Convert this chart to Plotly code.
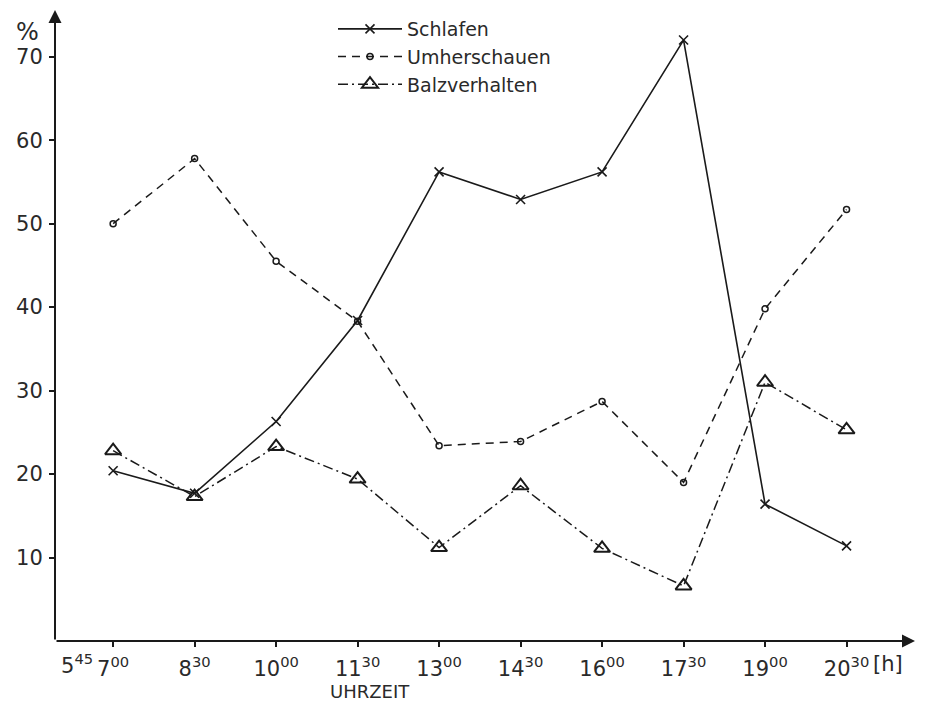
import plotly.graph_objects as go

# time of day in hours
hours = [7.0, 8.5, 10.0, 11.5, 13.0, 14.5, 16.0, 17.5, 19.0, 20.5]
tick_labels = ["7<sup>00</sup>", "8<sup>30</sup>", "10<sup>00</sup>", "11<sup>30</sup>",
               "13<sup>00</sup>", "14<sup>30</sup>", "16<sup>00</sup>", "17<sup>30</sup>",
               "19<sup>00</sup>", "20<sup>30</sup>"]

schlafen = [20.4, 17.7, 26.3, 38.4, 56.2, 52.9, 56.2, 72.0, 16.4, 11.4]
umherschauen = [50.0, 57.8, 45.5, 38.3, 23.4, 23.9, 28.7, 19.0, 39.8, 51.7]
balzverhalten = [22.8, 17.3, 23.3, 19.4, 11.2, 18.6, 11.1, 6.6, 31.0, 25.3]

y_ticks = [10, 20, 30, 40, 50, 60, 70]

X_MIN, X_MAX = 5.93, 21.76
Y_MIN, Y_MAX = 0, 75.6

INK = "#1a1a1a"
TXT = "#2a2a2a"
FONT = "DejaVu Sans"

# page body margin offsets the figure by 8px; work in screen pixels
OFF = 8
W, H = 920, 695
L, T = 55 - OFF, 10 - OFF
B = H - (641 - OFF)
R = W - (915 - OFF)
pw, ph = W - L - R, H - T - B


def px_to_paper(px, py):
    """screen pixel -> paper coords"""
    return (px - OFF - L) / pw, (H - B - (py - OFF)) / ph


fig = go.Figure()

fig.add_trace(go.Scatter(
    x=hours, y=schlafen, name="Schlafen", mode="lines+markers",
    line=dict(color=INK, width=1.6, dash="solid"),
    marker=dict(symbol="x-thin-open", size=9, color=INK, line=dict(color=INK, width=1.6)),
))
fig.add_trace(go.Scatter(
    x=hours, y=umherschauen, name="Umherschauen", mode="lines+markers",
    line=dict(color=INK, width=1.5, dash="8px,6px"),
    marker=dict(symbol="circle-open", size=6, color=INK, line=dict(color=INK, width=1.5)),
))
fig.add_trace(go.Scatter(
    x=hours, y=balzverhalten, name="Balzverhalten", mode="lines+markers",
    line=dict(color=INK, width=1.5, dash="10px,4px,2px,4px"),
    marker=dict(symbol="triangle-up-open", size=14, color=INK, line=dict(color=INK, width=2)),
))

annotations = [
    # x axis with arrow
    dict(x=X_MAX, y=0, ax=X_MIN, ay=0, xref="x", yref="y", axref="x", ayref="y",
         text="", showarrow=True, arrowhead=2, arrowsize=1.3, arrowwidth=2, arrowcolor=INK),
    # y axis with arrow
    dict(x=X_MIN, y=Y_MAX, ax=X_MIN, ay=0, xref="x", yref="y", axref="x", ayref="y",
         text="", showarrow=True, arrowhead=2, arrowsize=1.3, arrowwidth=2, arrowcolor=INK),
]

for px, py, text, size in [(77, 664, "5<sup>45</sup>", 21), (888, 664, "[h]", 21),
                           (370, 691, "UHRZEIT", 18), (27, 32, "%", 24)]:
    xp, yp = px_to_paper(px, py)
    annotations.append(dict(x=xp, y=yp, xref="paper", yref="paper", xanchor="center",
                            yanchor="middle", showarrow=False, text=text,
                            font=dict(family=FONT, size=size, color=TXT)))

lx, ly = px_to_paper(333, 10)

fig.update_layout(
    width=W, height=H,
    margin=dict(l=L, r=R, t=T, b=B, pad=0, autoexpand=False),
    paper_bgcolor="white", plot_bgcolor="white",
    font=dict(family=FONT, color=TXT),
    showlegend=True,
    legend=dict(x=lx, y=min(ly, 1.0), xanchor="left", yanchor="top",
                bgcolor="rgba(0,0,0,0)", font=dict(family=FONT, size=19, color=TXT),
                tracegroupgap=0, itemwidth=64),
    xaxis=dict(range=[X_MIN, X_MAX], tickmode="array", tickvals=hours, ticktext=tick_labels,
               showgrid=False, zeroline=False, showline=False, automargin=False,
               ticks="outside", ticklen=5, tickwidth=1.5, tickcolor=INK,
               ticklabelstandoff=4,
               tickfont=dict(family=FONT, size=21, color=TXT)),
    yaxis=dict(range=[Y_MIN, Y_MAX], tickmode="array", tickvals=y_ticks,
               showgrid=False, zeroline=False, showline=False, automargin=False,
               ticks="outside", ticklen=5, tickwidth=1.5, tickcolor=INK,
               ticklabelstandoff=2,
               tickfont=dict(family=FONT, size=21, color=TXT)),
    annotations=annotations,
)

fig.write_html("out.html")
